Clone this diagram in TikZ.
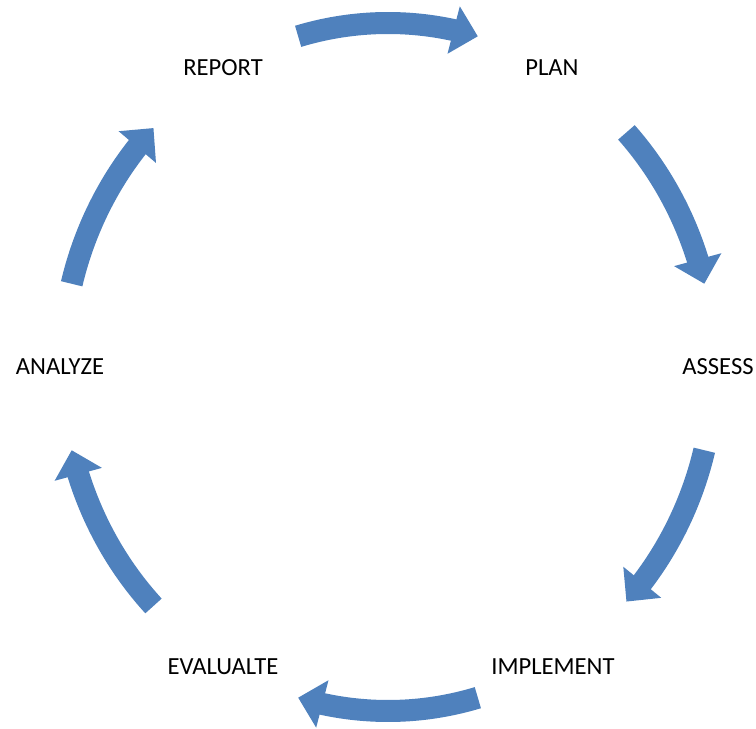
\documentclass[tikz,border=0pt]{standalone}
\usepackage{fontspec}
\setmainfont{Carlito}
\usepackage{tikz}
\usetikzlibrary{arrows.meta,bending}
\definecolor{cycblue}{RGB}{79,129,189}
\tikzset{
  stage/.style={font=\fontsize{14}{16}\selectfont, text=black, inner sep=0pt},
  cyc/.style={draw=cycblue, line width=0.44cm,
    -{Triangle[length=0.5cm,width=0.95cm,flex]}}
}
\begin{document}
\begin{tikzpicture}
\useasboundingbox (-7.76,-7.24) rectangle (7.36,7.34);
\node[stage] (report) at (-3.30,5.98) {REPORT};
\node[stage] (plan) at (3.28,5.98) {PLAN};
\node[stage] (assess) at (6.60,0) {ASSESS};
\node[stage] (implement) at (3.30,-6.00) {IMPLEMENT};
\node[stage] (evaluate) at (-3.30,-6.00) {EVALUALTE};
\node[stage] (analyze) at (-6.56,0) {ANALYZE};
\coordinate (a1) at (106:6.52 and 6.88);
\coordinate (a2) at (43:6.52 and 6.88);
\coordinate (a3) at (-14:6.52 and 6.88);
\coordinate (a4) at (-74:6.52 and 6.88);
\coordinate (a5) at (-136:6.52 and 6.88);
\coordinate (a6) at (166:6.52 and 6.88);
\draw[cyc] (a1) arc[start angle=106,end angle=74,x radius=6.52,y radius=6.88];
\draw[cyc] (a2) arc[start angle=43,end angle=14,x radius=6.52,y radius=6.88];
\draw[cyc] (a3) arc[start angle=-14,end angle=-43,x radius=6.52,y radius=6.88];
\draw[cyc] (a4) arc[start angle=-74,end angle=-106,x radius=6.52,y radius=6.88];
\draw[cyc] (a5) arc[start angle=-136,end angle=-166,x radius=6.52,y radius=6.88];
\draw[cyc] (a6) arc[start angle=166,end angle=136,x radius=6.52,y radius=6.88];
\end{tikzpicture}
\end{document}
